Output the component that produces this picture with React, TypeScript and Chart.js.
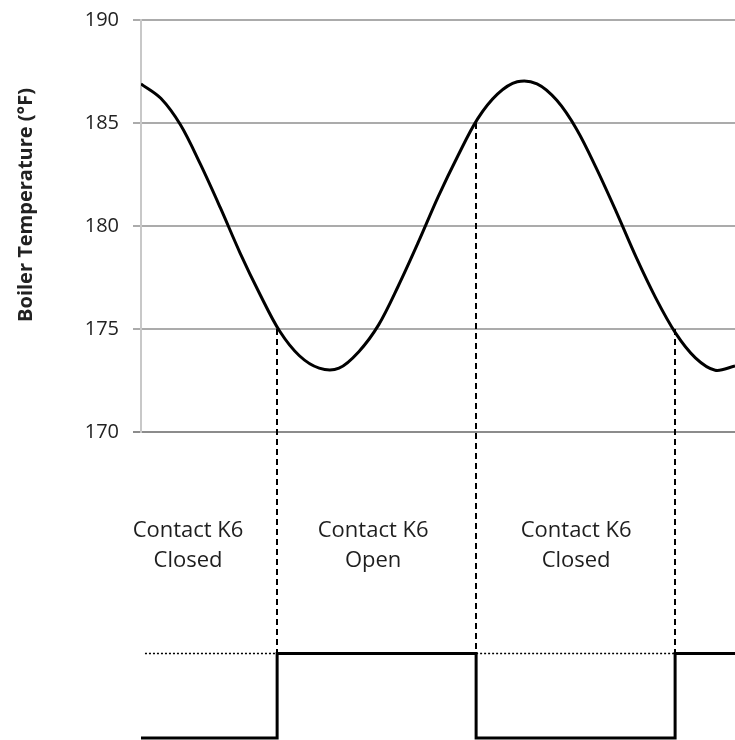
import React, { useEffect, useRef } from 'react';
import { Chart, registerables } from 'chart.js';

Chart.register(...registerables);

// Time axis (minutes) and boiler temperature readings (°F)
const timeMin = [0, 2, 4, 6, 8, 10, 12, 14, 16, 18, 20, 22, 24, 26, 28, 30, 32, 34, 36, 38, 40, 42, 44, 46, 48, 50, 52, 54, 56, 58, 60];
const boilerTemp = [186.9, 186.2, 184.9, 183.0, 180.9, 178.7, 176.7, 174.9, 173.7, 173.1, 173.1, 173.9, 175.2, 177.1, 179.2, 181.4, 183.4, 185.2, 186.4, 187.0, 186.9, 186.1, 184.7, 182.8, 180.7, 178.5, 176.5, 174.8, 173.6, 173.0, 173.2];

// Contact switching instants and the temperature at which they switch
const switchTimes = [13.75, 33.85, 53.95];
const switchTemps = [175, 185, 175];

// Contact K6 state (0 = low trace, 1 = high trace)
const stateTimes = [0, 13.75, 33.85, 53.95, 60];
const contactState = [0, 1, 0, 1, 1];

// Dotted reference at the high level while the trace is low
const refTimes = [0.4, 13.75, 23.7, 33.85, 53.95];
const refLevel: (number | null)[] = [1, 1, null, 1, 1];

// Region labels
const labelTimes = [4.75, 23.45, 43.95];
const labelLine1 = ['Contact K6', 'Contact K6', 'Contact K6'];
const labelLine2 = ['Closed', 'Open', 'Closed'];
const labelLevel1 = 2.38;
const labelLevel2 = 2.02;

const yTitle = 'Boiler Temperature (°F)';

const FONT = "'Open Sans', 'DejaVu Sans', sans-serif";

const overlayPlugin = {
  id: 'overlay',
  beforeDatasetsDraw(chart: any) {
    const { ctx, scales } = chart;
    const x = scales.x, y = scales.y, y2 = scales.y2;
    ctx.save();
    ctx.strokeStyle = '#000';
    ctx.lineWidth = 2;
    ctx.setLineDash([6, 4]);
    switchTimes.forEach((t, i) => {
      const px = Math.round(x.getPixelForValue(t));
      ctx.beginPath();
      ctx.moveTo(px, y.getPixelForValue(switchTemps[i]));
      ctx.lineTo(px, y2.getPixelForValue(1));
      ctx.stroke();
    });
    ctx.setLineDash([]);
    ctx.fillStyle = '#1e1e1e';
    ctx.font = `22px ${FONT}`;
    ctx.textAlign = 'center';
    ctx.textBaseline = 'alphabetic';
    labelTimes.forEach((t, i) => {
      const px = x.getPixelForValue(t);
      ctx.fillText(labelLine1[i], px, y2.getPixelForValue(labelLevel1));
      ctx.fillText(labelLine2[i], px, y2.getPixelForValue(labelLevel2));
    });
    ctx.restore();
  },
  afterDraw(chart: any) {
    const { ctx } = chart;
    ctx.save();
    ctx.translate(32, 205);
    ctx.rotate(-Math.PI / 2);
    ctx.fillStyle = '#222';
    ctx.font = `bold 20px ${FONT}`;
    ctx.textAlign = 'center';
    ctx.textBaseline = 'alphabetic';
    ctx.fillText(yTitle, 0, 0);
    ctx.restore();
  },
};

export default function App() {
  const ref = useRef<HTMLCanvasElement>(null);
  useEffect(() => {
    if (!ref.current) return;
    Chart.defaults.font.family = FONT;
    const chart = new Chart(ref.current, {
      type: 'line',
      data: {
        datasets: [
          {
            data: timeMin.map((t, i) => ({ x: t, y: boilerTemp[i] })),
            yAxisID: 'y',
            borderColor: '#000',
            borderWidth: 3,
            pointRadius: 0,
            tension: 0.33,
            fill: false,
          },
          {
            data: stateTimes.map((t, i) => ({ x: t, y: contactState[i] })),
            yAxisID: 'y2',
            borderColor: '#000',
            borderWidth: 3,
            pointRadius: 0,
            stepped: true,
            borderJoinStyle: 'miter',
            borderCapStyle: 'butt',
            fill: false,
          },
          {
            data: refTimes.map((t, i) => ({ x: t, y: refLevel[i] })),
            yAxisID: 'y2',
            borderColor: '#000',
            borderWidth: 1.5,
            borderDash: [2, 2],
            pointRadius: 0,
            spanGaps: false,
            fill: false,
          },
        ],
      } as any,
      options: {
        animation: false,
        responsive: false,
        maintainAspectRatio: false,
        layout: { padding: { top: 20, left: 0, right: 0, bottom: 0 } },
        plugins: { legend: { display: false }, tooltip: { enabled: false } },
        scales: {
          x: { type: 'linear', min: 0, max: 60, display: false },
          y: {
            type: 'linear',
            position: 'left',
            stack: 'main',
            stackWeight: 412,
            weight: 1,
            min: 170,
            max: 190,
            ticks: { stepSize: 5, padding: 14, color: '#222', font: { size: 20 } },
            grid: {
              color: (c: any) => (c.tick && c.tick.value === 170 ? '#8c8c8c' : '#ababab'),
              lineWidth: 2,
              tickLength: 8,
              drawTicks: true,
            },
            border: { display: true, color: '#c8c8c8', width: 2 },
            title: { display: false },
            afterFit: (s: any) => {
              s.width = 141;
              s.paddingTop = 0;
              s.paddingBottom = 0;
            },
          },
          y2: {
            type: 'linear',
            position: 'left',
            stack: 'main',
            stackWeight: 308,
            weight: 0,
            min: -0.024,
            max: 3.62,
            display: false,
            afterFit: (s: any) => {
              s.width = 141;
              s.paddingTop = 0;
              s.paddingBottom = 0;
            },
          },
        },
      } as any,
      plugins: [overlayPlugin],
    });
    return () => chart.destroy();
  }, []);
  return (
    <div style={{ position: 'absolute', left: 0, top: 0, width: 735, height: 740, background: '#fff' }}>
      <canvas ref={ref} width={735} height={740} style={{ width: 735, height: 740 }} />
    </div>
  );
}
